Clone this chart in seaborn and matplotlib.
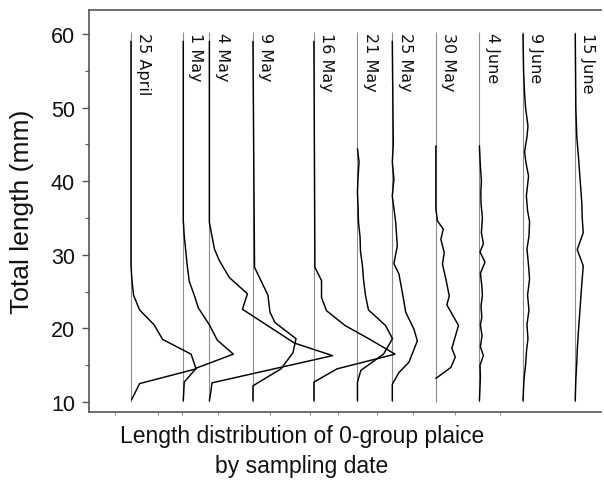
import numpy as np
import pandas as pd
import matplotlib
matplotlib.use('Agg')
import matplotlib.pyplot as plt
import seaborn as sns

# sampling dates and days since the first sample
dates = ['25 April', '1 May', '4 May', '9 May', '16 May', '21 May',
         '25 May', '30 May', '4 June', '9 June', '15 June']
days = [0, 6, 9, 14, 21, 26, 30, 35, 40, 45, 51]

# frequency polygons: total length (mm) and frequency (%) for each date
len_25apr = [10.3, 12.5, 14.5, 16.5, 18.5, 20.5, 22.5, 24.5, 26.5, 28.5, 59]
pct_25apr = [0.3, 4.3, 32.5, 30, 15.8, 11.5, 4.3, 1.3, 0.5, 0, 0]

len_1may = [10.2, 12.7, 14.6, 16.5, 18.4, 20.5, 22.8, 24.5, 26.4, 28.5, 30.4, 32.6, 34.7, 59]
pct_1may = [0, 0.5, 6.5, 25, 17, 13, 7.5, 5.5, 3, 2, 1.3, 0.5, 0, 0]

len_4may = [10.2, 11.5, 12.6, 16.3, 18.0, 22.6, 24.7, 26.9, 29.2, 30.8, 34.4, 59]
pct_4may = [0, 0.8, 1.3, 61.5, 42.5, 16.5, 19, 10, 5, 2.5, 0, 0]

len_9may = [10.2, 12.2, 14.5, 16.7, 18.6, 20.8, 22.2, 24.5, 28.3, 59]
pct_9may = [0, 0, 14, 20, 21.5, 11, 8.5, 7.5, 0.8, 0]

len_16may = [10.2, 12.7, 14.5, 16.5, 18.5, 20.4, 22.4, 24.2, 26.5, 28.3, 59]
pct_16may = [0, 0, 11.5, 40.5, 28, 15.5, 6.3, 3.8, 3.8, 0.5, 0]

len_21may = [10.2, 12.7, 14.3, 16.5, 18.6, 20.4, 22.5, 24.5, 26.7, 28.5, 30.5,
             32.4, 34.5, 36.5, 38.5, 40.6, 42.6, 44.4]
pct_21may = [0, 0, 1.7, 13, 17.5, 14, 5.5, 4, 3, 2.5, 1.5, 1.3, 0.5, 0.3, 0, 0.3, 0.8, 0]

len_25may = [10.2, 12.4, 14, 15.4, 18.3, 19.9, 22.2, 24.9, 27.4, 28.8, 31.2,
             34.4, 38, 40.3, 42.6, 45, 59]
pct_25may = [0, 0, 3.3, 8.3, 12.5, 10.8, 6.7, 5, 3.3, 0.8, 2.5, 1.7, 0, 0.8, 0, 0.5, 0]

len_30may = [13.2, 14.7, 16.1, 17.3, 20.4, 23.2, 24.4, 26.7, 28.75, 30.3, 32.1,
             33.5, 34.6, 36.2, 44.8]
pct_30may = [0, 7.5, 9.7, 8, 11.3, 5.5, 6.7, 5, 3.3, 4.2, 2.5, 3.7, 0.8, 0, 0]

len_4jun = [10.2, 12, 13.5, 15, 16.3, 17.5, 19, 20.5, 21.5, 23, 24.5, 25.8,
            27.5, 29, 30.4, 31.5, 33, 35, 37, 38.5, 40, 42, 44.8]
pct_4jun = [0, 0.3, 0.5, 0.3, 2, 0.5, 1.3, 0.5, 1.2, 0.8, 1.5, 1.2,
            0.5, 2.8, 0.3, 2, 1, 1.5, 0.8, 0.7, 1, 0.5, 0]

len_9jun = [10.2, 13, 15, 17, 18.6, 20.5, 22.5, 24.5, 26.7, 28.5, 30.8, 32.5,
            34.5, 36, 38, 40.7, 42.5, 44, 46, 47.5, 50, 52, 55, 60]
pct_9jun = [0, 0.5, 1.3, 1.8, 2.5, 2, 3, 2.3, 3.3, 2.8, 2, 3,
            3.3, 2.3, 1.7, 2.8, 1.5, 0.8, 2, 2.5, 1.3, 0.8, 0.3, 0]

len_15jun = [10.2, 13, 15.4, 17, 20, 23, 25, 28.5, 30.7, 33, 35, 37, 40, 43, 46, 50, 54, 60]
pct_15jun = [0, 0.3, 0.8, 1, 1.7, 2.5, 3, 4, 1, 4, 3.5, 3.3, 2.5, 1.7, 0.8, 0.3, 0.2, 0]

lengths = [len_25apr, len_1may, len_4may, len_9may, len_16may, len_21may,
           len_25may, len_30may, len_4jun, len_9jun, len_15jun]
percents = [pct_25apr, pct_1may, pct_4may, pct_9may, pct_16may, pct_21may,
            pct_25may, pct_30may, pct_4jun, pct_9jun, pct_15jun]

scale = 0.23  # days of x-axis per 1 % frequency

rows = []
for date, day, ls, ps in zip(dates, days, lengths, percents):
    for i, (l, p) in enumerate(zip(ls, ps)):
        rows.append({'date': date, 'order': i, 'length': l, 'x': day + p * scale})
df = pd.DataFrame(rows)

sns.set_theme(style='ticks')
plt.rcParams['font.family'] = ['Liberation Sans', 'DejaVu Sans']

fig, ax = plt.subplots(figsize=(6.04, 4.81), dpi=100)
fig.subplots_adjust(left=89 / 604, right=601 / 604, bottom=1 - 413 / 481, top=1 - 11 / 481)

# grey baselines (zero frequency) for each sampling date
ax.vlines(days, 10, 60.3, color='#8c8c8c', lw=0.8, zorder=1)

sns.lineplot(data=df, x='x', y='length', units='date', estimator=None, sort=False,
             color='black', lw=1.05, ax=ax, legend=False, zorder=2)

for date, day in zip(dates, days):
    ax.text(day + 0.6, 60.3, date, rotation=-90, ha='left', va='top',
            fontsize=11.5, family='DejaVu Sans', color='#111111')

ax.set_xlim(-4.82, 53.96)
ax.set_ylim(8.64, 63.26)
ax.set_yticks(np.arange(10, 61, 10))
ax.set_yticks(np.arange(15, 60, 10), minor=True)
ax.set_xticks([-1.8, 3.1, 5.9, 10, 16, 20.6, 23.8, 28.2, 32.4, 37.2, 42.4], minor=True)
ax.set_xticks([])
ax.tick_params(axis='y', which='major', length=5, width=1, color='#555555',
               labelsize=15.5, pad=5, labelcolor='#111111')
ax.tick_params(axis='y', which='minor', length=3, width=0.8, color='#555555')
ax.tick_params(axis='x', which='minor', length=2.5, width=0.6, color='#777777')

for side in ['left', 'top', 'bottom']:
    ax.spines[side].set_color('#555555')
    ax.spines[side].set_linewidth(1.2)
ax.spines['right'].set_visible(False)

ax.set_xlabel('')
ax.set_ylabel('Total length (mm)', fontsize=19, color='#111111', va='center')
ax.yaxis.set_label_coords((22 - 89) / 512, 0.5)

fig.text(0.5, 1 - 437 / 481, 'Length distribution of 0-group plaice',
         ha='center', va='center', fontsize=16.5, color='#111111')
fig.text(0.5, 1 - 466 / 481, 'by sampling date',
         ha='center', va='center', fontsize=16.5, color='#111111')

fig.savefig('out.png', dpi=100)
